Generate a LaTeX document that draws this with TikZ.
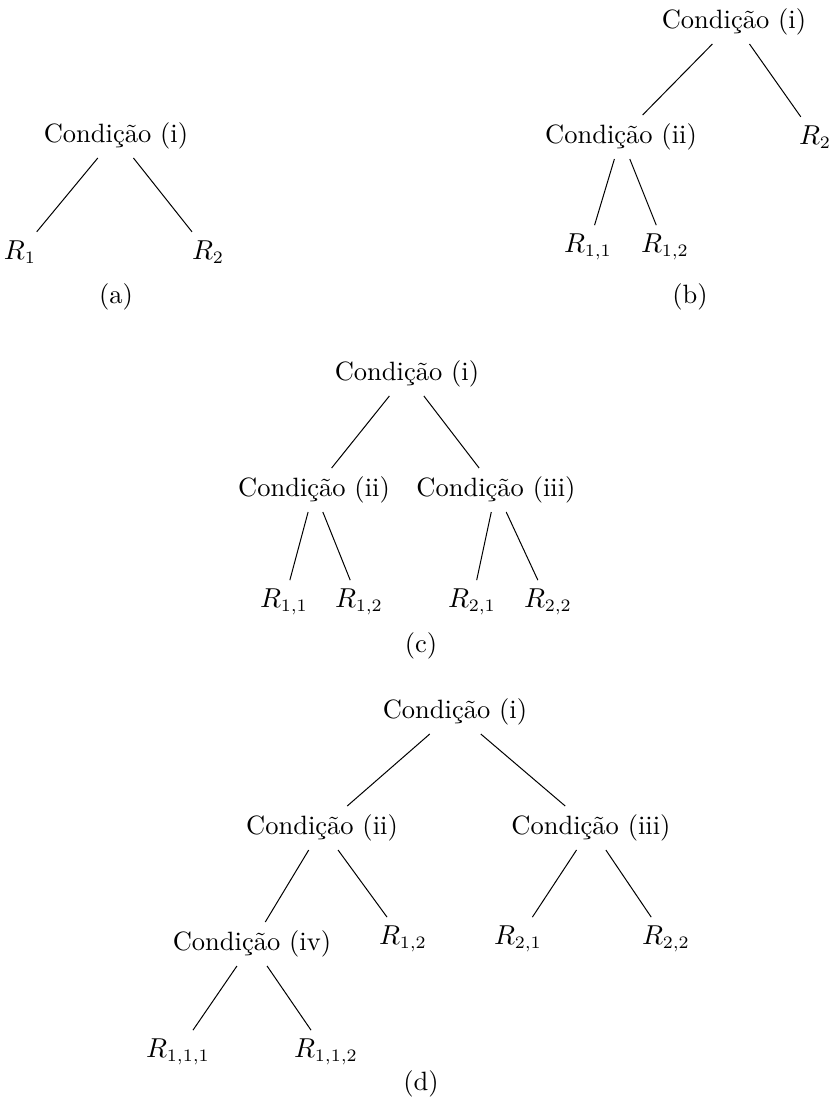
\documentclass[tikz,border=0pt]{standalone}
\begin{document}
\begin{tikzpicture}[x=0.4pt,y=-0.4pt,
  every node/.style={inner sep=3.5pt, outer sep=0pt, font=\fontsize{10.6}{12.7}\selectfont},
  cond/.style={},
  leaf/.style={},
  sublabel/.style={},
  branch/.style={draw=black, line width=0.4pt}]
\useasboundingbox (0,0) rectangle (834,1108);
% (a)
\node[cond] (a0) at (116,136) {Condição (i)};
\node[leaf] (a1) at (20,252) {$R_1$};
\node[leaf] (a2) at (208,252) {$R_2$};
\node[sublabel] (alab) at (116,297) {(a)};
\draw[branch] (a0) -- (a1);
\draw[branch] (a0) -- (a2);
% (b)
\node[cond] (b0) at (734,22) {Condição (i)};
\node[cond] (b1) at (621,137) {Condição (ii)};
\node[leaf] (b2) at (815,137) {$R_2$};
\node[leaf] (b11) at (588,247) {$R_{1,1}$};
\node[leaf] (b12) at (665,247) {$R_{1,2}$};
\node[sublabel] (blab) at (690,297) {(b)};
\draw[branch] (b0) -- (b1);
\draw[branch] (b0) -- (b2);
\draw[branch] (b1) -- (b11);
\draw[branch] (b1) -- (b12);
% (c)
\node[cond] (c0) at (407,374) {Condição (i)};
\node[cond] (c1) at (314,490) {Condição (ii)};
\node[cond] (c2) at (496,490) {Condição (iii)};
\node[leaf] (c11) at (284,602) {$R_{1,1}$};
\node[leaf] (c12) at (359,602) {$R_{1,2}$};
\node[leaf] (c21) at (472,602) {$R_{2,1}$};
\node[leaf] (c22) at (548,602) {$R_{2,2}$};
\node[sublabel] (clab) at (421,646) {(c)};
\draw[branch] (c0) -- (c1);
\draw[branch] (c0) -- (c2);
\draw[branch] (c1) -- (c11);
\draw[branch] (c1) -- (c12);
\draw[branch] (c2) -- (c21);
\draw[branch] (c2) -- (c22);
% (d)
\node[cond] (d0) at (455,712) {Condição (i)};
\node[cond] (d1) at (322,828) {Condição (ii)};
\node[cond] (d2) at (591,828) {Condição (iii)};
\node[cond] (d11) at (252,944) {Condição (iv)};
\node[leaf] (d12) at (403,939) {$R_{1,2}$};
\node[leaf] (d21) at (518,939) {$R_{2,1}$};
\node[leaf] (d22) at (666,939) {$R_{2,2}$};
\node[leaf] (d111) at (178,1052) {$R_{1,1,1}$};
\node[leaf] (d112) at (326,1052) {$R_{1,1,2}$};
\node[sublabel] (dlab) at (421,1084) {(d)};
\draw[branch] (d0) -- (d1);
\draw[branch] (d0) -- (d2);
\draw[branch] (d1) -- (d11);
\draw[branch] (d1) -- (d12);
\draw[branch] (d2) -- (d21);
\draw[branch] (d2) -- (d22);
\draw[branch] (d11) -- (d111);
\draw[branch] (d11) -- (d112);
\end{tikzpicture}
\end{document}
